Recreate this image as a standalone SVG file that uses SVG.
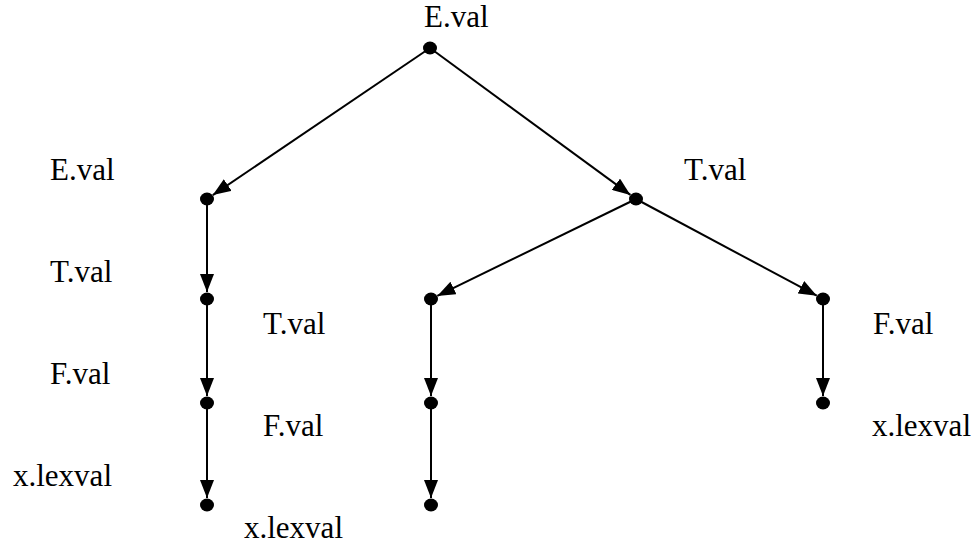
<svg xmlns="http://www.w3.org/2000/svg" width="980" height="544" viewBox="0 0 980 544">
<style>
.dot{fill:#000}
.edge{stroke:#000;stroke-width:2;fill:none;marker-end:url(#ah)}
</style>
<defs>
<marker id="ah" markerUnits="userSpaceOnUse" markerWidth="18" markerHeight="14" refX="18" refY="7" orient="auto">
<path d="M0,0 L18,7 L0,14 z" fill="#000"/>
</marker>
</defs>
<rect width="980" height="544" fill="#fff"/>
<g id="connectors">
<line class="edge" x1="430" y1="48" x2="212.8" y2="195.1"/>
<line class="edge" x1="430" y1="48" x2="630.4" y2="194.9"/>
<line class="edge" x1="636" y1="199" x2="437.3" y2="295.9"/>
<line class="edge" x1="636" y1="199" x2="816.8" y2="295.7"/>
<line class="edge" x1="207" y1="199" x2="207" y2="292"/>
<line class="edge" x1="207" y1="299" x2="207" y2="396"/>
<line class="edge" x1="207" y1="403" x2="207" y2="498"/>
<line class="edge" x1="431" y1="299" x2="431" y2="396"/>
<line class="edge" x1="431" y1="403" x2="431" y2="498"/>
<line class="edge" x1="823" y1="299" x2="823" y2="396"/>
</g>
<g font-family="Liberation Serif, DejaVu Serif, serif" font-size="31" fill="#000">
<g id="n-root"><ellipse class="dot" cx="430" cy="48" rx="7" ry="6.5"/><text x="424" y="27">E.val</text></g>
<g id="n-E"><ellipse class="dot" cx="207" cy="199" rx="7" ry="6.5"/><text x="50" y="180">E.val</text></g>
<g id="n-T"><ellipse class="dot" cx="636" cy="199" rx="7" ry="6.5"/><text x="684" y="180">T.val</text></g>
<g id="n-T1"><ellipse class="dot" cx="207" cy="299" rx="7" ry="6.5"/><text x="50" y="282">T.val</text></g>
<g id="n-F1"><ellipse class="dot" cx="207" cy="403" rx="7" ry="6.5"/><text x="50" y="384">F.val</text></g>
<g id="n-x1"><ellipse class="dot" cx="207" cy="505" rx="7" ry="6.5"/><text x="13" y="486">x.lexval</text></g>
<g id="n-T2"><ellipse class="dot" cx="431" cy="299" rx="7" ry="6.5"/><text x="263" y="334">T.val</text></g>
<g id="n-F2"><ellipse class="dot" cx="431" cy="403" rx="7" ry="6.5"/><text x="263" y="436">F.val</text></g>
<g id="n-x2"><ellipse class="dot" cx="431" cy="505" rx="7" ry="6.5"/><text x="244" y="538">x.lexval</text></g>
<g id="n-F3"><ellipse class="dot" cx="823" cy="299" rx="7" ry="6.5"/><text x="873" y="334">F.val</text></g>
<g id="n-x3"><ellipse class="dot" cx="823" cy="403" rx="7" ry="6.5"/><text x="872" y="436">x.lexval</text></g>
</g>
</svg>
